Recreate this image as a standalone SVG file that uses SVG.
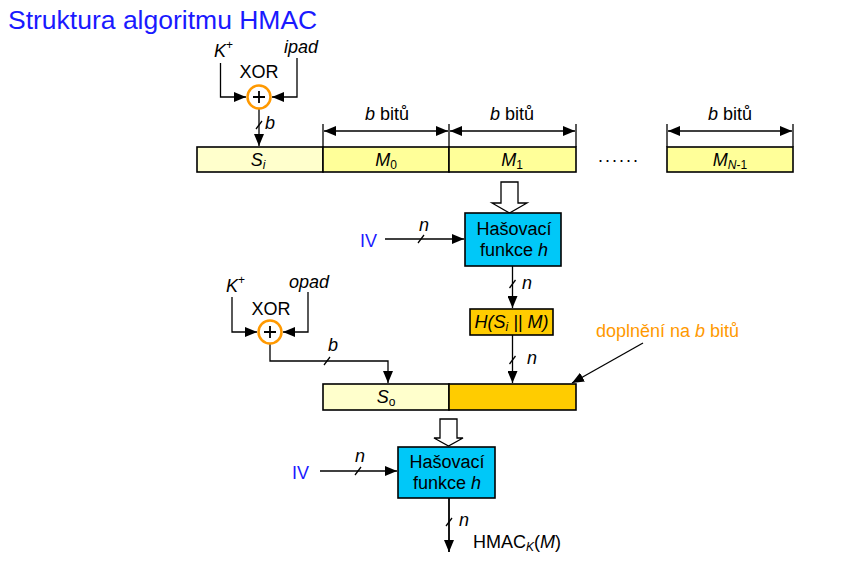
<svg xmlns="http://www.w3.org/2000/svg" width="866" height="575" viewBox="0 0 866 575">
<style>
text{font-family:"Liberation Sans",Arial,sans-serif;font-size:18px;fill:#000}
.i{font-style:italic}
.sub{font-size:12px}
.ln{stroke:#000;stroke-width:1.3;fill:none}
.blk{stroke:#000;stroke-width:1.6}
.xor{fill:#fff;stroke:#ff9900;stroke-width:2.5}
.hash{fill:#00c8f8;stroke:#000;stroke-width:1.6}
.hol{fill:#fff;stroke:#000;stroke-width:1.3}
.blue{fill:#1a1aff}
</style>
<defs>
<marker id="ah" markerUnits="userSpaceOnUse" markerWidth="12" markerHeight="10" refX="12" refY="5" orient="auto-start-reverse" viewBox="0 0 12 10">
<path d="M0,0 L12,5 L0,10 z" fill="#000"/>
</marker>
</defs>
<rect width="866" height="575" fill="#fff"/>
<text x="8" y="29" class="blue" style="font-size:26.5px">Struktura algoritmu HMAC</text>

<g id="connectors">
<polyline class="ln" points="220.5,63 220.5,97 246,97" marker-end="url(#ah)"/>
<polyline class="ln" points="297,58 297,97 272,97" marker-end="url(#ah)"/>
<line class="ln" x1="259" y1="109" x2="259" y2="146" marker-end="url(#ah)"/>
<line class="ln" x1="256" y1="129" x2="262" y2="121"/>
<line class="ln" x1="323" y1="124" x2="323" y2="147"/>
<line class="ln" x1="449" y1="124" x2="449" y2="147"/>
<line class="ln" x1="576" y1="124" x2="576" y2="147"/>
<line class="ln" x1="667" y1="124" x2="667" y2="147"/>
<line class="ln" x1="793" y1="124" x2="793" y2="147"/>
<line class="ln" x1="324" y1="131" x2="448" y2="131" marker-start="url(#ah)" marker-end="url(#ah)"/>
<line class="ln" x1="450" y1="131" x2="575" y2="131" marker-start="url(#ah)" marker-end="url(#ah)"/>
<line class="ln" x1="668" y1="131" x2="792" y2="131" marker-start="url(#ah)" marker-end="url(#ah)"/>
<line class="ln" x1="385" y1="239" x2="464" y2="239" marker-end="url(#ah)"/>
<line class="ln" x1="418" y1="243" x2="424" y2="235"/>
<line class="ln" x1="512.5" y1="266" x2="512.5" y2="308" marker-end="url(#ah)"/>
<line class="ln" x1="509.5" y1="288" x2="515.5" y2="280"/>
<line class="ln" x1="512.5" y1="335" x2="512.5" y2="383" marker-end="url(#ah)"/>
<line class="ln" x1="509.5" y1="364" x2="515.5" y2="356"/>
<line class="ln" x1="643" y1="343" x2="572" y2="383" marker-end="url(#ah)"/>
<polyline class="ln" points="232,297 232,332 257,332" marker-end="url(#ah)"/>
<polyline class="ln" points="308,292 308,332 283,332" marker-end="url(#ah)"/>
<polyline class="ln" points="270,344 270,361 388,361 388,383" marker-end="url(#ah)"/>
<line class="ln" x1="324" y1="365" x2="330" y2="357"/>
<line class="ln" x1="320" y1="471" x2="397" y2="471" marker-end="url(#ah)"/>
<line class="ln" x1="355" y1="475" x2="361" y2="467"/>
<line class="ln" x1="449" y1="498" x2="449" y2="552" marker-end="url(#ah)" style="stroke-width:1.8"/>
<line class="ln" x1="446" y1="526" x2="452" y2="518"/>
</g>

<g id="xor1">
<text x="214" y="57" class="i">K<tspan class="sub" dy="-8" style="font-style:normal">+</tspan></text>
<text x="284" y="53" class="i">ipad</text>
<text x="259" y="78" text-anchor="middle">XOR</text>
<circle class="xor" cx="259" cy="97" r="11.5"/>
<path class="ln" d="M253,97 H265 M259,91 V103" style="stroke-width:1.8"/>
<text x="265" y="129" class="i">b</text>
</g>

<g id="labels-top">
<text x="387" y="120" text-anchor="middle"><tspan class="i">b</tspan> bitů</text>
<text x="512" y="120" text-anchor="middle"><tspan class="i">b</tspan> bitů</text>
<text x="730" y="120" text-anchor="middle"><tspan class="i">b</tspan> bitů</text>
</g>

<g id="block-si">
<rect class="blk" x="197" y="147" width="126" height="25" fill="#ffffcc"/>
<text x="258" y="166" text-anchor="middle"><tspan class="i">S</tspan><tspan class="sub i" dy="3">i</tspan></text>
</g>
<g id="block-m0">
<rect class="blk" x="323" y="147" width="126" height="25" fill="#ffff99"/>
<text x="386" y="166" text-anchor="middle"><tspan class="i">M</tspan><tspan class="sub" dy="3">0</tspan></text>
</g>
<g id="block-m1">
<rect class="blk" x="449" y="147" width="127" height="25" fill="#ffff99"/>
<text x="512" y="166" text-anchor="middle"><tspan class="i">M</tspan><tspan class="sub" dy="3">1</tspan></text>
</g>
<g id="dots">
<text x="598" y="162" style="letter-spacing:2px">......</text>
</g>
<g id="block-mn1">
<rect class="blk" x="667" y="147" width="126" height="25" fill="#ffff99"/>
<text x="730" y="166" text-anchor="middle"><tspan class="i">M</tspan><tspan class="sub i" dy="3">N</tspan><tspan class="sub">-1</tspan></text>
</g>

<g id="arrow1">
<path class="hol" d="M501,182 H518 V203 H527 L509.5,213 L492,203 H501 Z"/>
</g>

<g id="hash1">
<rect class="hash" x="465" y="213" width="96" height="53"/>
<text x="514" y="235" text-anchor="middle">Hašovací</text>
<text x="514" y="256" text-anchor="middle">funkce <tspan class="i">h</tspan></text>
<text x="360" y="247" class="blue">IV</text>
<text x="419" y="231" class="i">n</text>
<text x="522" y="289" class="i">n</text>
</g>

<g id="hbox">
<rect class="blk" x="470" y="309" width="83" height="26" fill="#ffcc00"/>
<text x="511.5" y="328" text-anchor="middle" class="i">H(S<tspan class="sub" dy="3">i</tspan><tspan dy="-3"> || M)</tspan></text>
<text x="527" y="364" class="i">n</text>
</g>

<g id="doplneni">
<text x="596" y="337" style="fill:#ff9900">doplnění na <tspan class="i">b</tspan> bitů</text>
</g>

<g id="xor2">
<text x="226" y="292" class="i">K<tspan class="sub" dy="-8" style="font-style:normal">+</tspan></text>
<text x="289" y="288" class="i">opad</text>
<text x="271" y="315" text-anchor="middle">XOR</text>
<circle class="xor" cx="270" cy="332" r="11.5"/>
<path class="ln" d="M264,332 H276 M270,326 V338" style="stroke-width:1.8"/>
<text x="328" y="351" class="i">b</text>
</g>

<g id="block-so">
<rect class="blk" x="323" y="384" width="126" height="26" fill="#ffffcc"/>
<text x="386" y="403" text-anchor="middle"><tspan class="i">S</tspan><tspan class="sub" dy="3">o</tspan></text>
</g>
<g id="block-pad">
<rect class="blk" x="449" y="384" width="127" height="26" fill="#ffcc00"/>
</g>

<g id="arrow2">
<path class="hol" d="M440,419 H457 V438 H463 L448.5,446 L434,438 H440 Z"/>
</g>

<g id="hash2">
<rect class="hash" x="398" y="447" width="97" height="51"/>
<text x="447" y="468" text-anchor="middle">Hašovací</text>
<text x="447" y="489" text-anchor="middle">funkce <tspan class="i">h</tspan></text>
<text x="292" y="479" class="blue">IV</text>
<text x="355" y="462" class="i">n</text>
<text x="459" y="526" class="i">n</text>
</g>

<g id="output">
<text x="473" y="548">HMAC<tspan class="sub i" dy="3">K</tspan><tspan dy="-3">(</tspan><tspan class="i">M</tspan>)</text>
</g>
</svg>
